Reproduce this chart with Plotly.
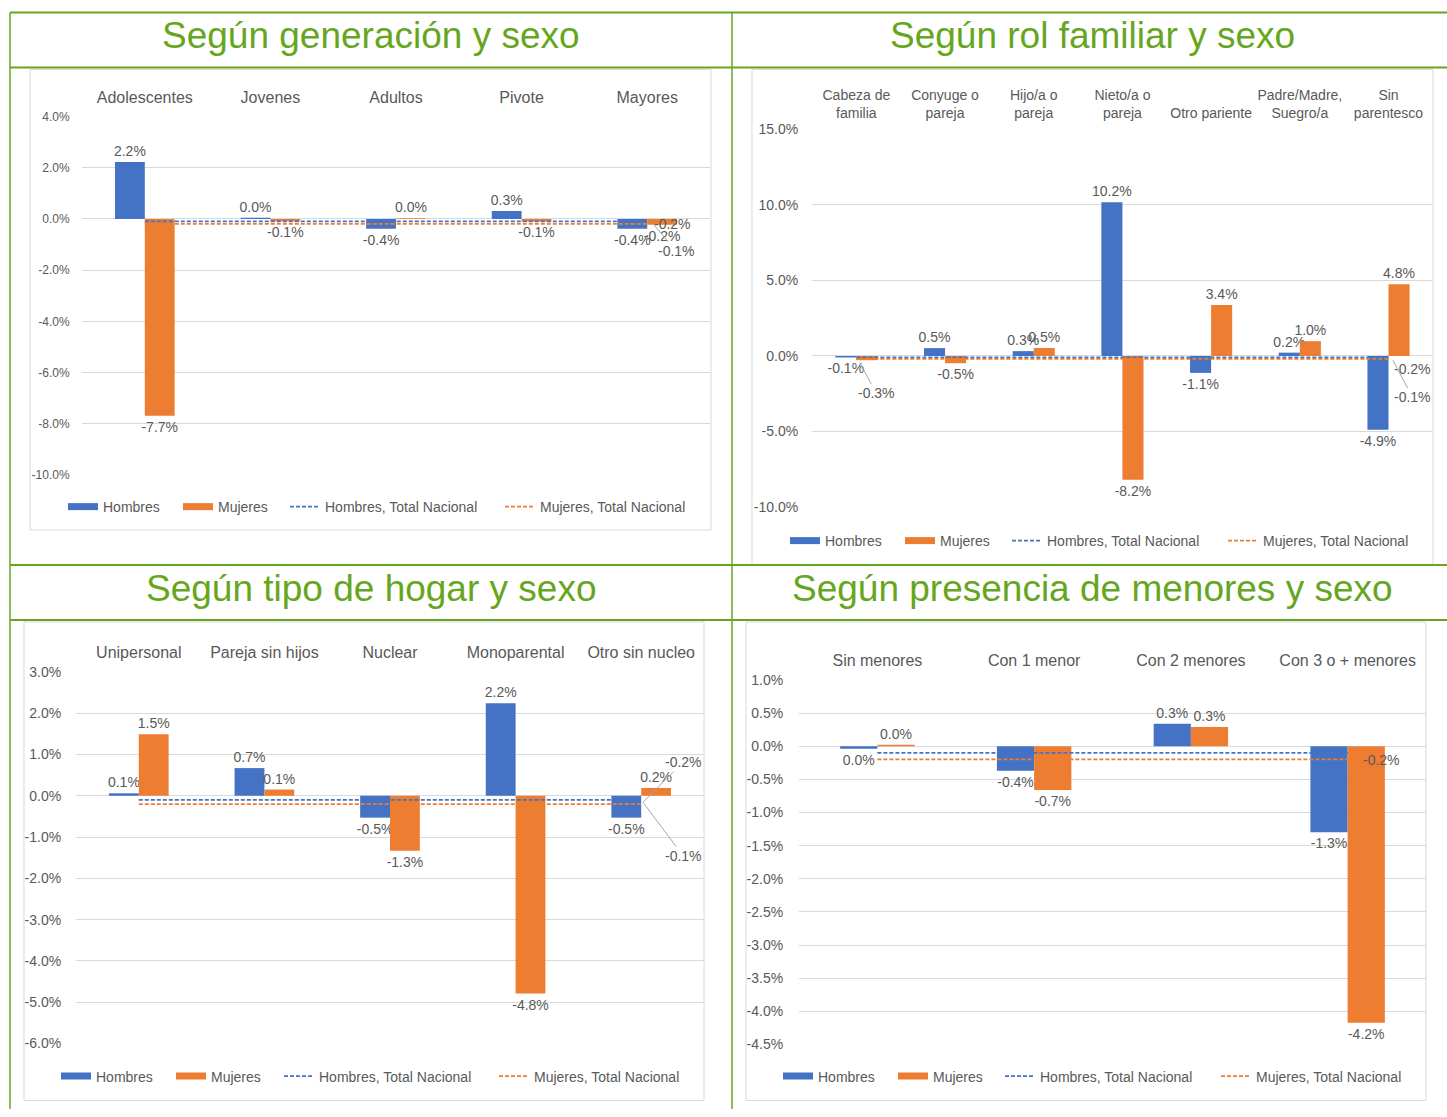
import plotly.graph_objects as go

W, H = 1447, 1117

BLUE = "#4472C4"
ORANGE = "#ED7D31"
GREEN = "#66A61E"
TXT = "#595959"
GRID = "#D9D9D9"
LEADER = "#A6A6A6"
FONT = "Liberation Sans, Arial, sans-serif"

# ---------------- data (percent) ----------------
gen_cats = ["Adolescentes", "Jovenes", "Adultos", "Pivote", "Mayores"]
gen_hombres = [2.22, 0.04, -0.39, 0.31, -0.39]
gen_mujeres = [-7.68, -0.09, 0.02, -0.10, -0.23]
gen_hom_nac = [-0.1, -0.1, -0.1, -0.1, -0.1]
gen_muj_nac = [-0.2, -0.2, -0.2, -0.2, -0.2]
gen_ticks = [4, 2, 0, -2, -4, -6, -8, -10]

rol_cats = ["Cabeza de<br>familia", "Conyuge o<br>pareja", "Hijo/a o<br>pareja", "Nieto/a o<br>pareja",
            "Otro pariente", "Padre/Madre,<br>Suegro/a", "Sin<br>parentesco"]
rol_hombres = [-0.10, 0.52, 0.32, 10.17, -1.12, 0.22, -4.88]
rol_mujeres = [-0.28, -0.48, 0.53, -8.20, 3.38, 0.98, 4.75]
rol_hom_nac = [-0.1, -0.1, -0.1, -0.1, -0.1, -0.1, -0.1]
rol_muj_nac = [-0.2, -0.2, -0.2, -0.2, -0.2, -0.2, -0.2]
rol_ticks = [15, 10, 5, 0, -5, -10]

hog_cats = ["Unipersonal", "Pareja sin hijos", "Nuclear", "Monoparental", "Otro sin nucleo"]
hog_hombres = [0.06, 0.67, -0.53, 2.24, -0.53]
hog_mujeres = [1.49, 0.15, -1.33, -4.79, 0.19]
hog_hom_nac = [-0.1, -0.1, -0.1, -0.1, -0.1]
hog_muj_nac = [-0.2, -0.2, -0.2, -0.2, -0.2]
hog_ticks = [3, 2, 1, 0, -1, -2, -3, -4, -5, -6]

men_cats = ["Sin menores", "Con 1 menor", "Con 2 menores", "Con 3 o + menores"]
men_hombres = [-0.04, -0.37, 0.34, -1.30]
men_mujeres = [0.02, -0.66, 0.29, -4.17]
men_hom_nac = [-0.1, -0.1, -0.1, -0.1]
men_muj_nac = [-0.2, -0.2, -0.2, -0.2]
men_ticks = [1.0, 0.5, 0.0, -0.5, -1.0, -1.5, -2.0, -2.5, -3.0, -3.5, -4.0, -4.5]

titles = ["Según generación y sexo", "Según rol familiar y sexo",
          "Según tipo de hogar y sexo", "Según presencia de menores y sexo"]
series_names = ["Hombres", "Mujeres", "Hombres, Total Nacional", "Mujeres, Total Nacional"]


def fmt(v):
    s = f"{v:.1f}"
    if s == "-0.0":
        s = "0.0"
    return s + "%"


# the page is shown slightly shrunk vertically around its centre; compensate
VS = 0.9866
VOFF = 7.5


def px(x):
    return x / W


def py(y):
    return 1 - ((y - VOFF) / VS) / H


panels = [
    dict(cats=gen_cats, hom=gen_hombres, muj=gen_mujeres, hn=gen_hom_nac, mn=gen_muj_nac,
         ticks=gen_ticks, xdom=(82, 710), ydom=(116, 475), yrange=(-10, 4),
         yfont=12, xfont=16, ylen=9, xlen=6, leg_x=[68, 183, 290, 505], leg_y=507,
         hide_muj=[], box=(30, 69, 711, 530), title=(371, 35)),
    dict(cats=rol_cats, hom=rol_hombres, muj=rol_mujeres, hn=rol_hom_nac, mn=rol_muj_nac,
         ticks=rol_ticks, xdom=(812, 1433), ydom=(129, 507), yrange=(-10, 15),
         yfont=14, xfont=14, ylen=10, xlen=5, leg_x=[790, 905, 1012, 1228], leg_y=541,
         hide_muj=[0], box=(752, 69, 1433, 565), title=(1092, 35)),
    dict(cats=hog_cats, hom=hog_hombres, muj=hog_mujeres, hn=hog_hom_nac, mn=hog_muj_nac,
         ticks=hog_ticks, xdom=(76, 704), ydom=(672, 1044), yrange=(-6, 3),
         yfont=14, xfont=16, ylen=11, xlen=6, leg_x=[61, 176, 284, 499], leg_y=1077,
         hide_muj=[], box=(24, 622, 704, 1101), title=(371, 589)),
    dict(cats=men_cats, hom=men_hombres, muj=men_mujeres, hn=men_hom_nac, mn=men_muj_nac,
         ticks=men_ticks, xdom=(799, 1426), ydom=(680, 1045), yrange=(-4.5, 1.0),
         yfont=14, xfont=16, ylen=12, xlen=6, leg_x=[783, 898, 1005, 1221], leg_y=1077,
         hide_muj=[], box=(746, 622, 1426, 1101), title=(1092, 589)),
]

fig = go.Figure()
annotations = []
shapes = []
layout = {}
leg_count = 0


def new_legend(x, y):
    global leg_count
    leg_count += 1
    name = "legend" if leg_count == 1 else f"legend{leg_count}"
    layout[name] = dict(
        orientation="h", x=px(x - 5), y=py(y), xanchor="left", yanchor="middle",
        font=dict(size=14, color=TXT, family=FONT), bgcolor="rgba(0,0,0,0)",
        borderwidth=0, itemwidth=30, itemclick=False, itemdoubleclick=False)
    return name


for i, p in enumerate(panels, start=1):
    sx = "" if i == 1 else str(i)
    xa, ya = "x" + sx, "y" + sx
    cats = p["cats"]
    legs = [new_legend(lx, p["leg_y"]) for lx in p["leg_x"]]

    # legend keys for the bar series (Excel-like wide rectangle keys)
    for name, col, lg in [(series_names[0], BLUE, legs[0]), (series_names[1], ORANGE, legs[1])]:
        fig.add_trace(go.Scatter(x=[None], y=[None], mode="lines", name=name,
                                 line=dict(color=col, width=7), legend=lg,
                                 xaxis=xa, yaxis=ya, hoverinfo="skip"))

    fig.add_trace(go.Bar(x=cats, y=p["hom"], marker=dict(color=BLUE, line=dict(width=0)),
                         text=[fmt(v) for v in p["hom"]], textposition="outside",
                         textangle=0, constraintext="none", cliponaxis=False,
                         textfont=dict(size=14, color=TXT, family=FONT),
                         showlegend=False, xaxis=xa, yaxis=ya, name=series_names[0]))
    muj_pos = ["none" if k in p["hide_muj"] else "outside" for k in range(len(cats))]
    fig.add_trace(go.Bar(x=cats, y=p["muj"], marker=dict(color=ORANGE, line=dict(width=0)),
                         text=[fmt(v) for v in p["muj"]], textposition=muj_pos,
                         textangle=0, constraintext="none", cliponaxis=False,
                         textfont=dict(size=14, color=TXT, family=FONT),
                         showlegend=False, xaxis=xa, yaxis=ya, name=series_names[1]))
    fig.add_trace(go.Scatter(x=cats, y=p["hn"], mode="lines", name=series_names[2],
                             line=dict(color=BLUE, width=1.75, dash="4px,2px"),
                             legend=legs[2], xaxis=xa, yaxis=ya, hoverinfo="skip",
                             cliponaxis=False))
    fig.add_trace(go.Scatter(x=cats, y=p["mn"], mode="lines", name=series_names[3],
                             line=dict(color=ORANGE, width=1.75, dash="4px,2px"),
                             legend=legs[3], xaxis=xa, yaxis=ya, hoverinfo="skip",
                             cliponaxis=False))

    layout["xaxis" + sx] = dict(
        domain=[px(p["xdom"][0]), px(p["xdom"][1])], anchor=ya, side="top",
        type="category", showgrid=False, showline=False, zeroline=False,
        ticks="outside", ticklen=p["xlen"], tickcolor="rgba(0,0,0,0)",
        tickfont=dict(size=p["xfont"], color=TXT, family=FONT), fixedrange=True)
    layout["yaxis" + sx] = dict(
        domain=[py(p["ydom"][1]), py(p["ydom"][0])], anchor=xa,
        range=list(p["yrange"]), tickmode="array", tickvals=p["ticks"],
        ticktext=[fmt(v) for v in p["ticks"]],
        showgrid=True, gridcolor=GRID, gridwidth=1,
        zeroline=True, zerolinecolor=GRID, zerolinewidth=1, showline=False,
        ticks="outside", ticklen=p["ylen"], tickcolor="rgba(0,0,0,0)",
        tickfont=dict(size=p["yfont"], color=TXT, family=FONT), fixedrange=True)

    b = p["box"]
    shapes.append(dict(type="rect", xref="paper", yref="paper", layer="below",
                       x0=px(b[0]), x1=px(b[2]), y0=py(b[3]), y1=py(b[1]),
                       line=dict(color=GRID, width=1), fillcolor="rgba(0,0,0,0)"))
    t = p["title"]
    annotations.append(dict(text=titles[i - 1], xref="paper", yref="paper",
                            x=px(t[0]), y=py(t[1]), xanchor="center", yanchor="middle",
                            showarrow=False, font=dict(size=37, color=GREEN, family=FONT)))


def lab(i, cat, val, xshift=0, yshift=0, ax=None, ay=None):
    sx = "" if i == 1 else str(i)
    d = dict(xref="x" + sx, yref="y" + sx, x=cat, y=val, text=fmt(val),
             font=dict(size=14, color=TXT, family=FONT), xshift=xshift, yshift=yshift)
    if ax is None:
        d.update(showarrow=False)
    else:
        d.update(showarrow=True, ax=ax, ay=ay, arrowhead=0, arrowwidth=1,
                 arrowcolor=LEADER, standoff=3)
    annotations.append(d)


# national-total labels at last point, and a moved bar label
lab(1, gen_cats[-1], gen_muj_nac[-1], xshift=25, yshift=0)
lab(1, gen_cats[-1], gen_hom_nac[-1], xshift=4, ax=25, ay=30)
lab(2, rol_cats[-1], rol_muj_nac[-1], xshift=24, yshift=-10)
lab(2, rol_cats[-1], rol_hom_nac[-1], xshift=3, ax=21, ay=40)
lab(2, rol_cats[0], rol_mujeres[0], xshift=2, ax=18, ay=33)
lab(3, hog_cats[-1], hog_muj_nac[-1], ax=42, ay=-42)
lab(3, hog_cats[-1], hog_hom_nac[-1], ax=42, ay=56)
lab(4, men_cats[-1], men_muj_nac[-1], xshift=34, yshift=-1)


# green table frame
def hline(y, w=2):
    shapes.append(dict(type="line", xref="paper", yref="paper", x0=px(10), x1=1,
                       y0=py(y), y1=py(y), line=dict(color=GREEN, width=w)))


def vline(x, w=2):
    shapes.append(dict(type="line", xref="paper", yref="paper", x0=px(x), x1=px(x),
                       y0=py(12), y1=0, line=dict(color=GREEN, width=w)))


for yy in (12, 67, 565, 620):
    hline(yy)
for xx in (10, 732):
    vline(xx, 1.5)

fig.update_layout(
    width=W, height=H, margin=dict(l=0, r=0, t=0, b=0),
    paper_bgcolor="white", plot_bgcolor="rgba(0,0,0,0)",
    barmode="group", bargap=0.525, bargroupgap=0,
    font=dict(family=FONT, color=TXT), hovermode=False,
    annotations=annotations, shapes=shapes, **layout)

fig.write_html(
    "out.html",
    config={"displayModeBar": False, "staticPlot": True},
    post_script=(
        "document.documentElement.style.margin='0px';"
        "document.body.style.margin='0px';document.body.style.padding='0px';"
        "document.documentElement.style.overflow='hidden';"
        "var gd=document.getElementById('{plot_id}');"
        "gd.style.position='fixed';gd.style.top='0px';gd.style.left='0px';"
    ),
)
